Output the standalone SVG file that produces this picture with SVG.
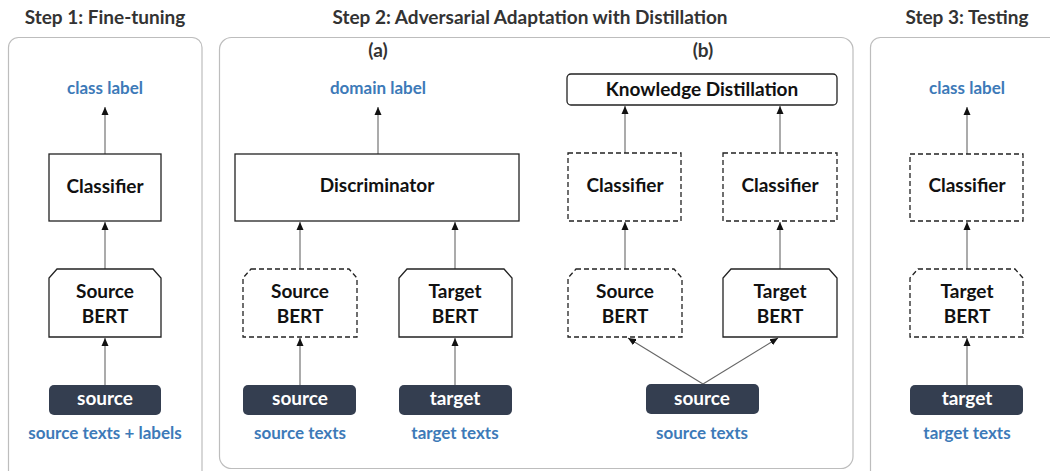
<svg xmlns="http://www.w3.org/2000/svg" width="1050" height="471" viewBox="0 0 1050 471">
<defs>
<marker id="ah" viewBox="0 0 8 8" refX="8" refY="4" markerWidth="8" markerHeight="8" markerUnits="userSpaceOnUse" orient="auto">
<path d="M0,0.5 L8,4 L0,7.5 Z" fill="#111"/>
</marker>
<style>
.panel{fill:#fff;stroke:#bdbdbd;stroke-width:1.2}
.title{font-family:Lato,"Liberation Sans",sans-serif;font-weight:700;font-size:19px;fill:#333;text-anchor:middle}
.sub{font-family:Lato,"Liberation Sans",sans-serif;font-weight:700;font-size:19px;fill:#333;text-anchor:middle}
.lbl{font-family:Lato,"Liberation Sans",sans-serif;font-weight:700;font-size:17px;fill:#3d7ab8;text-anchor:middle}
.node{fill:#fff;stroke:#222;stroke-width:1.3}
.dash{fill:#fff;stroke:#222;stroke-width:1.3;stroke-dasharray:5,3}
.nt{font-family:Lato,"Liberation Sans",sans-serif;font-weight:700;font-size:19px;fill:#111;text-anchor:middle}
.pill{fill:#343e50}
.pt{font-family:Lato,"Liberation Sans",sans-serif;font-weight:700;font-size:19px;fill:#fff;text-anchor:middle}
.c{stroke:#666;stroke-width:1.1;fill:none;marker-end:url(#ah)}
</style>
</defs>
<rect width="1050" height="471" fill="#fff"/>

<g id="panels">
<rect class="panel" x="8.5" y="37.5" width="193.5" height="450" rx="10"/>
<rect class="panel" x="219.5" y="37.5" width="633.5" height="431" rx="12"/>
<rect class="panel" x="870.5" y="37.5" width="200" height="450" rx="10"/>
<text class="title" x="105" y="24">Step 1: Fine-tuning</text>
<text class="title" x="530" y="24">Step 2: Adversarial Adaptation with Distillation</text>
<text class="title" x="967" y="24">Step 3: Testing</text>
<text class="sub" x="378" y="57">(a)</text>
<text class="sub" x="703" y="57">(b)</text>
</g>

<g id="connectors">
<line class="c" x1="105" y1="154" x2="105" y2="107"/>
<line class="c" x1="105" y1="269" x2="105" y2="222"/>
<line class="c" x1="105" y1="385" x2="105" y2="338"/>
<line class="c" x1="378" y1="154" x2="378" y2="107"/>
<line class="c" x1="300" y1="269" x2="300" y2="222"/>
<line class="c" x1="455" y1="269" x2="455" y2="222"/>
<line class="c" x1="300" y1="385" x2="300" y2="338"/>
<line class="c" x1="455" y1="385" x2="455" y2="338"/>
<line class="c" x1="625" y1="153" x2="625" y2="106"/>
<line class="c" x1="780" y1="153" x2="780" y2="106"/>
<line class="c" x1="625" y1="269" x2="625" y2="222"/>
<line class="c" x1="780" y1="269" x2="780" y2="222"/>
<line class="c" x1="703" y1="384" x2="628" y2="338"/>
<line class="c" x1="703" y1="384" x2="778" y2="338"/>
<line class="c" x1="967" y1="154" x2="967" y2="107"/>
<line class="c" x1="967" y1="269" x2="967" y2="222"/>
<line class="c" x1="967" y1="385" x2="967" y2="338"/>
</g>

<g id="s1-classlabel"><text class="lbl" x="105" y="94">class label</text></g>
<g id="s1-classifier"><rect class="node" x="49" y="154" width="112" height="67"/><text class="nt" x="105" y="193">Classifier</text></g>
<g id="s1-bert"><path class="node" d="M57,269 H153 L161,278 V337 H49 V278 Z"/><text class="nt" x="105" y="298">Source</text><text class="nt" x="105" y="323">BERT</text></g>
<g id="s1-source"><rect class="pill" x="49" y="385" width="112" height="30" rx="5"/><text class="pt" x="105" y="405">source</text></g>
<g id="s1-texts"><text class="lbl" x="105" y="439">source texts + labels</text></g>

<g id="a-domainlabel"><text class="lbl" x="378" y="94">domain label</text></g>
<g id="a-disc"><rect class="node" x="235" y="154" width="284" height="67"/><text class="nt" x="377" y="192">Discriminator</text></g>
<g id="a-srcbert"><path class="dash" d="M251,269 H349 L357,278 V337 H243 V278 Z"/><text class="nt" x="300" y="298">Source</text><text class="nt" x="300" y="323">BERT</text></g>
<g id="a-tgtbert"><path class="node" d="M407,269 H504 L512,278 V337 H399 V278 Z"/><text class="nt" x="455" y="298">Target</text><text class="nt" x="455" y="323">BERT</text></g>
<g id="a-source"><rect class="pill" x="243" y="385" width="113" height="30" rx="5"/><text class="pt" x="300" y="405">source</text></g>
<g id="a-target"><rect class="pill" x="399" y="385" width="113" height="30" rx="5"/><text class="pt" x="455" y="405">target</text></g>
<g id="a-srctexts"><text class="lbl" x="300" y="439">source texts</text></g>
<g id="a-tgttexts"><text class="lbl" x="455" y="439">target texts</text></g>

<g id="b-kd"><rect class="node" x="567" y="74" width="270" height="31" rx="4"/><text class="nt" x="702" y="96">Knowledge Distillation</text></g>
<g id="b-cls1"><rect class="dash" x="568" y="153" width="113" height="68"/><text class="nt" x="625" y="192">Classifier</text></g>
<g id="b-cls2"><rect class="dash" x="723" y="153" width="114" height="68"/><text class="nt" x="780" y="192">Classifier</text></g>
<g id="b-srcbert"><path class="dash" d="M576,269 H674 L682,278 V337 H568 V278 Z"/><text class="nt" x="625" y="298">Source</text><text class="nt" x="625" y="323">BERT</text></g>
<g id="b-tgtbert"><path class="node" d="M731,269 H829 L837,278 V337 H723 V278 Z"/><text class="nt" x="780" y="298">Target</text><text class="nt" x="780" y="323">BERT</text></g>
<g id="b-source"><rect class="pill" x="646" y="384" width="113" height="30" rx="5"/><text class="pt" x="702" y="405">source</text></g>
<g id="b-srctexts"><text class="lbl" x="702" y="439">source texts</text></g>

<g id="s3-classlabel"><text class="lbl" x="967" y="94">class label</text></g>
<g id="s3-classifier"><rect class="dash" x="910" y="154" width="113" height="67"/><text class="nt" x="967" y="192">Classifier</text></g>
<g id="s3-bert"><path class="dash" d="M918,269 H1015 L1023,278 V337 H910 V278 Z"/><text class="nt" x="967" y="298">Target</text><text class="nt" x="967" y="323">BERT</text></g>
<g id="s3-target"><rect class="pill" x="910" y="385" width="113" height="30" rx="5"/><text class="pt" x="967" y="405">target</text></g>
<g id="s3-texts"><text class="lbl" x="967" y="439">target texts</text></g>
</svg>
